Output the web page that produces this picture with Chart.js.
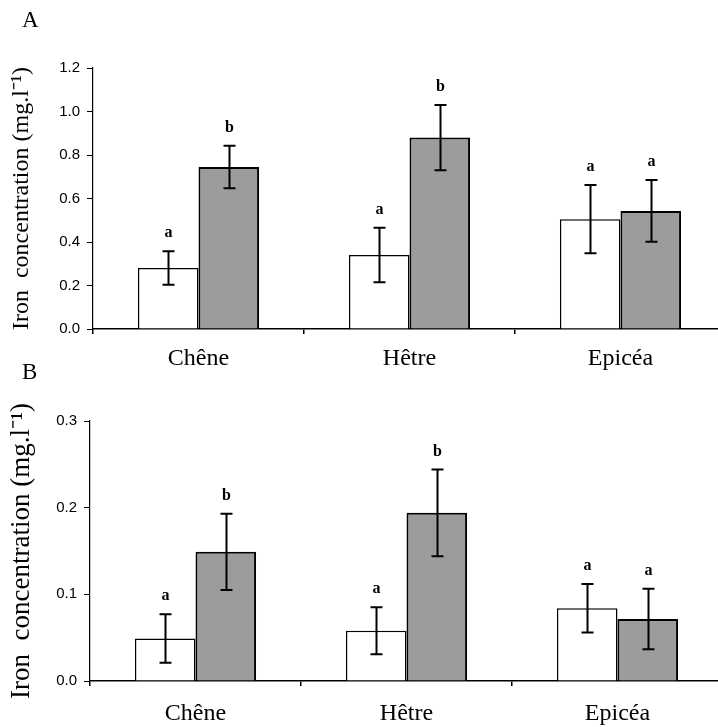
<!DOCTYPE html>
<html><head><meta charset="utf-8">
<script src="https://cdn.jsdelivr.net/npm/chart.js@4.4.1/dist/chart.umd.min.js"></script>
<style>
html,body{margin:0;padding:0;background:#fff;overflow:hidden;width:718px;height:727px;}
#wrapA{position:absolute;left:0;top:0;width:730px;height:372px;}
#wrapB{position:absolute;left:0;top:355px;width:730px;height:372px;}
canvas{display:block;}
</style></head><body>
<div id="wrapA"><canvas id="cA" width="730" height="372"></canvas></div>
<div id="wrapB"><canvas id="cB" width="730" height="372"></canvas></div>
<script>
// ---- data ----
const categories = ['Chêne', 'Hêtre', 'Epicéa'];
// Panel A
const controlA = [0.28, 0.34, 0.505];
const controlErrA = [0.077, 0.125, 0.157];
const controlLettersA = ['a', 'a', 'a'];
const treatedA = [0.745, 0.88, 0.543];
const treatedErrA = [0.098, 0.15, 0.142];
const treatedLettersA = ['b', 'b', 'a'];
const ticksA = [0.0, 0.2, 0.4, 0.6, 0.8, 1.0, 1.2];
// Panel B
const controlB = [0.049, 0.058, 0.084];
const controlErrB = [0.028, 0.027, 0.028];
const controlLettersB = ['a', 'a', 'a'];
const treatedB = [0.149, 0.194, 0.0715];
const treatedErrB = [0.044, 0.05, 0.035];
const treatedLettersB = ['b', 'b', 'a'];
const ticksB = [0.0, 0.1, 0.2, 0.3];
const yTitle = 'Iron  concentration (mg.l\u207B\u00B9)';

const errorBarPlugin = {
  id: 'errbars',
  afterDatasetsDraw(chart) {
    const ctx = chart.ctx, y = chart.scales.y;
    chart.data.datasets.forEach((ds, di) => {
      const meta = chart.getDatasetMeta(di);
      meta.data.forEach((bar, i) => {
        const v = ds.data[i], e = ds.errors[i];
        const yt = y.getPixelForValue(v + e), yb = y.getPixelForValue(v - e);
        const x = Math.round(bar.x) + 0.5;
        ctx.save();
        ctx.strokeStyle = '#000'; ctx.lineWidth = 2;
        ctx.beginPath();
        ctx.moveTo(x, yt); ctx.lineTo(x, yb);
        ctx.moveTo(x - 6, yt); ctx.lineTo(x + 6, yt);
        ctx.moveTo(x - 6, yb); ctx.lineTo(x + 6, yb);
        ctx.stroke();
        ctx.font = 'bold 16px "Liberation Serif"';
        ctx.textAlign = 'center'; ctx.textBaseline = 'alphabetic'; ctx.fillStyle = '#000';
        ctx.fillText(ds.letters[i], x, yt - 14);
        ctx.restore();
      });
    });
  }
};

const panelLabelPlugin = {
  id: 'panelLabel',
  afterDraw(chart, args, opts) {
    const ctx = chart.ctx;
    ctx.save();
    ctx.font = '23px "Liberation Serif"';
    ctx.fillStyle = '#000'; ctx.textAlign = 'left'; ctx.textBaseline = 'alphabetic';
    ctx.fillText(opts.text, opts.x, opts.y);
    ctx.restore();
  }
};

function makeChart(id, cfg) {
  return new Chart(document.getElementById(id), {
    type: 'bar',
    data: {
      labels: categories,
      datasets: [
        { data: cfg.ctrl, errors: cfg.ctrlErr, letters: cfg.ctrlLetters,
          backgroundColor: '#ffffff', borderColor: '#000', borderWidth: 1.5,
          categoryPercentage: 0.574, barPercentage: 1.0 },
        { data: cfg.trt, errors: cfg.trtErr, letters: cfg.trtLetters,
          backgroundColor: '#9c9c9c', borderColor: '#000', borderWidth: 2,
          categoryPercentage: 0.574, barPercentage: 1.0 }
      ]
    },
    options: {
      responsive: false, animation: false, devicePixelRatio: 1,
      layout: { padding: { left: 0, top: cfg.top, right: cfg.right, bottom: 0 } },
      plugins: { legend: { display: false }, tooltip: { enabled: false },
        panelLabel: { text: cfg.label, x: 22, y: cfg.labelY } },
      scales: {
        x: {
          offset: true,
          grid: { display: true, drawOnChartArea: false, drawTicks: true, tickLength: 5, color: '#000', lineWidth: 1.5, offset: true },
          border: { display: true, color: '#000', width: 1.5 },
          ticks: { color: '#000', font: { family: '"Liberation Serif"', size: 24 }, padding: cfg.xPad, maxRotation: 0 },
          afterFit: s => { s.height = cfg.xH; }
        },
        y: {
          min: 0, max: cfg.max,
          afterBuildTicks: s => { s.ticks = cfg.ticks.map(v => ({ value: v })); },
          grid: { display: true, drawOnChartArea: false, drawTicks: true, tickLength: 6, color: '#000', lineWidth: 1 },
          border: { display: true, color: '#000', width: 1.2 },
          ticks: { color: '#000', font: { family: '"Liberation Sans"', size: 15 }, padding: 7,
            callback: v => Number(v).toFixed(1) },
          title: { display: true, text: yTitle, color: '#000',
            font: { family: '"Liberation Serif"', size: cfg.titleSize, lineHeight: 1.2 }, padding: { top: cfg.titlePad, bottom: 0 } },
          afterFit: s => { s.width = cfg.left; }
        }
      }
    },
    plugins: [errorBarPlugin, panelLabelPlugin]
  });
}

makeChart('cA', { ctrl: controlA, ctrlErr: controlErrA, ctrlLetters: controlLettersA,
  trt: treatedA, trtErr: treatedErrA, trtLetters: treatedLettersA,
  max: 1.2, ticks: ticksA, top: 68, right: 4, left: 93, xH: 43, xPad: 10,
  label: 'A', labelY: 27, titleSize: 24, titlePad: 7 });

makeChart('cB', { ctrl: controlB, ctrlErr: controlErrB, ctrlLetters: controlLettersB,
  trt: treatedB, trtErr: treatedErrB, trtLetters: treatedLettersB,
  max: 0.3, ticks: ticksB, top: 66, right: 7, left: 90, xH: 46, xPad: 13,
  label: 'B', labelY: 24, titleSize: 27, titlePad: 6 });
</script>
</body></html>
